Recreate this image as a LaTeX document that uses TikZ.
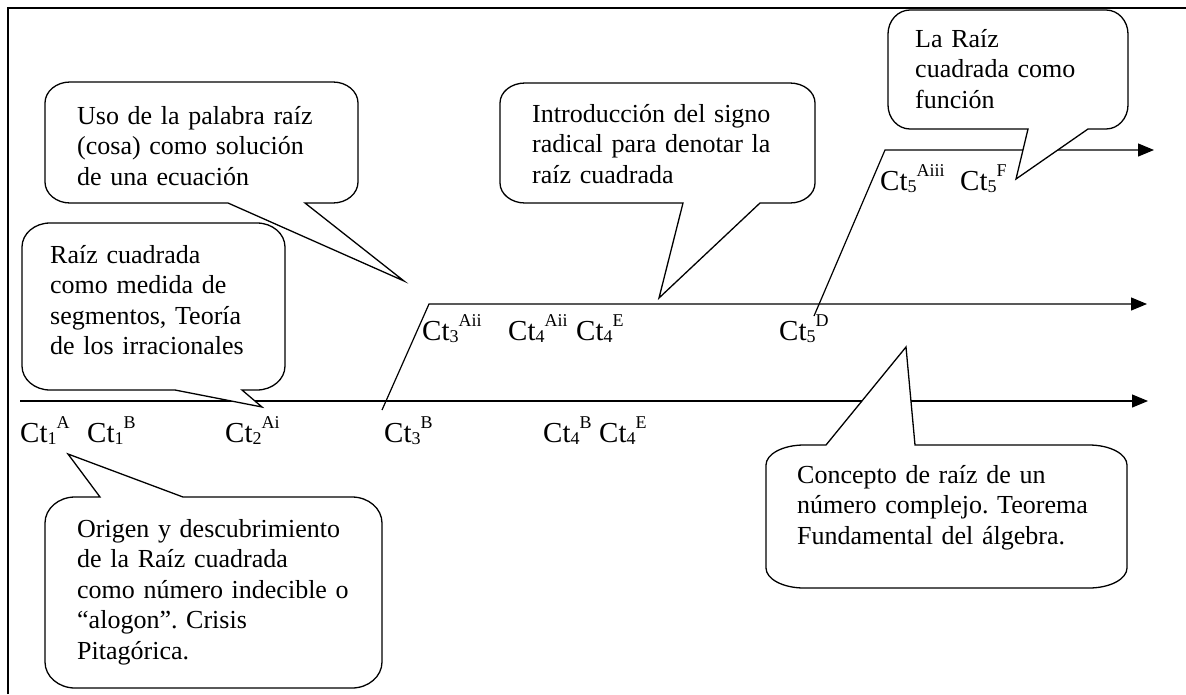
\documentclass[tikz,border=0pt]{standalone}
\usepackage{fontspec}
\setmainfont{Liberation Serif}
\usetikzlibrary{arrows.meta}
\frenchspacing

% Ct label with subscript index and raised superscript tag
\newcommand{\ctlabel}[2]{Ct\raisebox{-2.5pt}{\fontsize{18}{18}\selectfont #1}\raisebox{14pt}{\fontsize{18}{18}\selectfont #2}}

% balloon geometry: left, top, right, bottom, corner radii
\newcommand{\setballoon}[6]{\def\bxL{#1}\def\bxT{#2}\def\bxR{#3}\def\bxB{#4}\def\bxrx{#5}\def\bxry{#6}}

% balloon with its pointer leaving the bottom edge between x=#1 and x=#2, tip at coordinate #3
\newcommand{\balloonbottom}[3]{%
  \draw[balloon] (#1,\bxB) -- (#3) -- (#2,\bxB) -- ({\bxR-\bxrx},\bxB)
    .. controls ({\bxR-\bxrx*0.448},\bxB) and (\bxR,{\bxB-\bxry*0.448}) .. (\bxR,{\bxB-\bxry})
    -- (\bxR,{\bxT+\bxry})
    .. controls (\bxR,{\bxT+\bxry*0.448}) and ({\bxR-\bxrx*0.448},\bxT) .. ({\bxR-\bxrx},\bxT)
    -- ({\bxL+\bxrx},\bxT)
    .. controls ({\bxL+\bxrx*0.448},\bxT) and (\bxL,{\bxT+\bxry*0.448}) .. (\bxL,{\bxT+\bxry})
    -- (\bxL,{\bxB-\bxry})
    .. controls (\bxL,{\bxB-\bxry*0.448}) and ({\bxL+\bxrx*0.448},\bxB) .. ({\bxL+\bxrx},\bxB)
    -- cycle;}

% balloon with its pointer leaving the top edge between x=#1 and x=#2, tip at coordinate #3
\newcommand{\balloontop}[3]{%
  \draw[balloon] (#1,\bxT) -- (#3) -- (#2,\bxT) -- ({\bxR-\bxrx},\bxT)
    .. controls ({\bxR-\bxrx*0.448},\bxT) and (\bxR,{\bxT+\bxry*0.448}) .. (\bxR,{\bxT+\bxry})
    -- (\bxR,{\bxB-\bxry})
    .. controls (\bxR,{\bxB-\bxry*0.448}) and ({\bxR-\bxrx*0.448},\bxB) .. ({\bxR-\bxrx},\bxB)
    -- ({\bxL+\bxrx},\bxB)
    .. controls ({\bxL+\bxrx*0.448},\bxB) and (\bxL,{\bxB-\bxry*0.448}) .. (\bxL,{\bxB-\bxry})
    -- (\bxL,{\bxT+\bxry})
    .. controls (\bxL,{\bxT+\bxry*0.448}) and ({\bxL+\bxrx*0.448},\bxT) .. ({\bxL+\bxrx},\bxT)
    -- cycle;}

\tikzset{
  balloon/.style={draw=black, fill=white, line width=1.3pt, line join=miter},
  timeline/.style={line width=1.2pt, -{Triangle[length=16pt,width=13pt]}},
  frameline/.style={line width=1.6pt},
  note/.style={font=\fontsize{26}{30.5}\selectfont, align=left, text width=360pt, inner sep=0pt, anchor=base west},
  lbl/.style={font=\fontsize{29}{30}\selectfont, inner sep=0pt, anchor=base west},
}

\begin{document}
\begin{tikzpicture}[x=1pt, y=-1pt]
\useasboundingbox (0,0) rectangle (1186,694);

% outer frame (left and top sides)
\coordinate (fBL) at (8,694);
\coordinate (fTL) at (8,8);
\coordinate (fTR) at (1186,8);
\draw[frameline] (fBL) -- (fTL) -- (fTR);

% three time lines
\coordinate (l1s) at (20,401);
\coordinate (l1e) at (1148,401);
\coordinate (l2s) at (382,410);
\coordinate (l2k) at (429,304);
\coordinate (l2e) at (1147,304);
\coordinate (l3s) at (814,316);
\coordinate (l3k) at (885,150);
\coordinate (l3e) at (1154,150);
\draw[timeline] (l1s) -- (l1e);
\draw[timeline] (l2s) -- (l2k) -- (l2e);
\draw[timeline] (l3s) -- (l3k) -- (l3e);

% stage labels
\node[lbl] (c1a) at (20,442) {\ctlabel{1}{A}};
\node[lbl] (c1b) at (87,442) {\ctlabel{1}{B}};
\node[lbl] (c2ai) at (225,442) {\ctlabel{2}{Ai}};
\node[lbl] (c3b) at (384,442) {\ctlabel{3}{B}};
\node[lbl] (c4b) at (543,442) {\ctlabel{4}{B}};
\node[lbl] (c4e) at (599,442) {\ctlabel{4}{E}};
\node[lbl] (c3aii) at (422,340) {\ctlabel{3}{Aii}};
\node[lbl] (c4aii) at (508,340) {\ctlabel{4}{Aii}};
\node[lbl] (c4em) at (576,340) {\ctlabel{4}{E}};
\node[lbl] (c5d) at (779,340) {\ctlabel{5}{D}};
\node[lbl] (c5aiii) at (880,190) {\ctlabel{5}{Aiii}};
\node[lbl] (c5f) at (960,190) {\ctlabel{5}{F}};

% pointer tips
\coordinate (tUso) at (404,281);
\coordinate (tMed) at (262,407);
\coordinate (tOri) at (68,454);
\coordinate (tInt) at (659,298);
\coordinate (tFun) at (1016,179);
\coordinate (tCom) at (906,347);

% balloons
\setballoon{45}{82}{358}{203}{25}{21}
\balloonbottom{228}{305}{tUso}
\setballoon{22}{223}{285}{390}{28}{24}
\balloonbottom{175}{242}{tMed}
\setballoon{45}{497}{382}{688}{30}{26}
\balloontop{100}{183}{tOri}
\setballoon{500}{83}{815}{203}{25}{20}
\balloonbottom{683}{760}{tInt}
\setballoon{888}{10}{1128}{129}{22}{24}
\balloonbottom{1028}{1088}{tFun}
\setballoon{766}{445}{1127}{588}{38}{20}
\balloontop{826}{915}{tCom}

% balloon texts
\node[note] (uso) at (77,124) {Uso de la palabra raíz\\(cosa) como solución\\de una ecuación};
\node[note] (med) at (50,263) {Raíz cuadrada\\como medida de\\segmentos, Teoría\\de los irracionales};
\node[note] (ori) at (77,537) {Origen y descubrimiento\\de la Raíz cuadrada\\como número indecible o\\“alogon”. Crisis\\Pitagórica.};
\node[note] (intro) at (532,122) {Introducción del signo\\radical para denotar la\\raíz cuadrada};
\node[note] (fun) at (915,47) {La Raíz\\cuadrada como\\función};
\node[note] (com) at (797,483) {Concepto de raíz de un\\número complejo. Teorema\\Fundamental del álgebra.};
\end{tikzpicture}
\end{document}
